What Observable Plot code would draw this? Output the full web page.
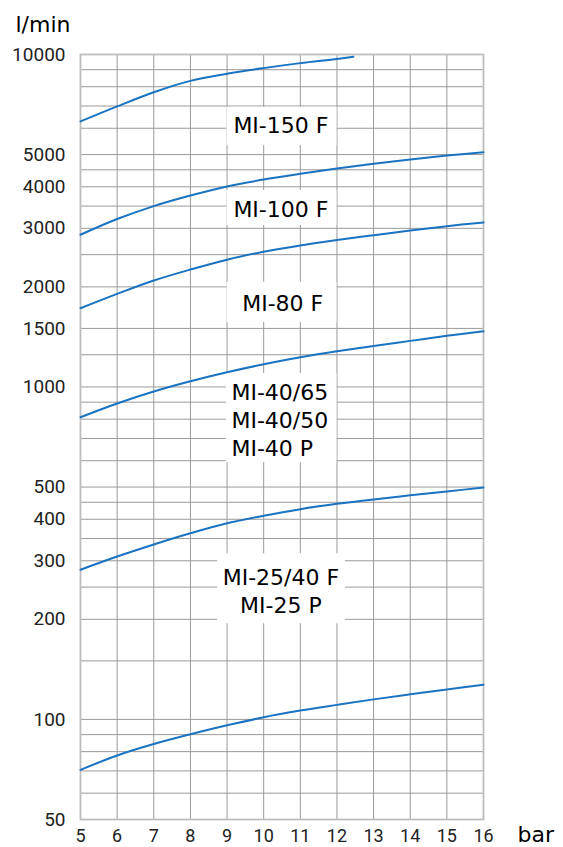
<!DOCTYPE html>
<html>
<head>
<meta charset="utf-8">
<script src="https://cdn.jsdelivr.net/npm/d3@7"></script>
<script src="https://cdn.jsdelivr.net/npm/@observablehq/plot@0.6"></script>
<style>
  html, body { margin: 0; padding: 0; background: #fff; }
</style>
</head>
<body>
<div id="chart"></div>
<script>
// Pressure (bar) sample points
const pressureBar = [5, 6, 7, 8, 9, 10, 11, 12, 13, 14, 15, 16];
const pressureBarShort = [5, 6, 7, 8, 9, 10, 11, 12, 12.45];

// Flow rates (l/min), top to bottom
const curveMI150F = [6290, 6980, 7700, 8330, 8750, 9100, 9420, 9700, 9850];
const curveMI100F = [2870, 3200, 3500, 3765, 4010, 4205, 4375, 4540, 4690, 4830, 4965, 5080];
const curveMI80F = [1725, 1905, 2090, 2255, 2415, 2550, 2665, 2765, 2860, 2955, 3045, 3125];
const curveMI40 = [811, 892, 969, 1040, 1107, 1170, 1228, 1280, 1329, 1376, 1425, 1470];
const curveMI25 = [282, 309, 336, 363, 389, 410, 429, 445, 459, 472, 485, 498];
const curveLowest = [70.5, 77.9, 84.3, 90.2, 96.0, 101.5, 106.3, 110.6, 114.9, 119, 123.1, 127.2];

// Axis ticks and grid values
const xTicks = [5, 6, 7, 8, 9, 10, 11, 12, 13, 14, 15, 16];
const yTickLabels = [50, 100, 200, 300, 400, 500, 1000, 1500, 2000, 3000, 4000, 5000, 10000];
const yGridValues = [50, 60, 70, 80, 90, 100, 150, 200, 250, 300, 350, 400, 450, 500, 600, 700, 800, 900,
  1000, 1250, 1500, 2000, 2500, 3000, 3500, 4000, 4500, 5000, 6000, 7000, 8000, 9000, 10000];

// Curve labels (anchored in data units: bar, l/min)
const labelText = ["MI-150 F", "MI-100 F", "MI-80 F", "MI-40/65\nMI-40/50\nMI-40 P", "MI-25/40 F\nMI-25 P"];
const labelBar = [10.47, 10.47, 10.52, 9.12, 10.47];
const labelFlow = [6157, 3441, 1795, 800, 244.5];
const boxBarFrom = [9.0, 9.0, 9.0, 8.98, 8.74];
const boxBarTo = [12.0, 12.0, 12.0, 12.0, 12.23];
const boxFlowLow = [5320, 3060, 1565, 592, 194];
const boxFlowHigh = [6940, 3900, 2065, 1097, 315];

// Build tidy table
const series = [
  ["MI-150 F", pressureBarShort, curveMI150F],
  ["MI-100 F", pressureBar, curveMI100F],
  ["MI-80 F", pressureBar, curveMI80F],
  ["MI-40", pressureBar, curveMI40],
  ["MI-25/40 F", pressureBar, curveMI25],
  ["lowest", pressureBar, curveLowest]
];
const rows = series.flatMap(([name, xs, ys]) => xs.map((x, i) => ({name, bar: x, flow: ys[i]})));

const labels = labelText.map((t, i) => ({
  text: t, bar: labelBar[i], flow: labelFlow[i],
  x1: boxBarFrom[i], x2: boxBarTo[i], y1: boxFlowLow[i], y2: boxFlowHigh[i],
  start: i === 3
}));

const blue = "#1a73c0";
const labelFont = "DejaVu Sans";

const chart = Plot.plot({
  width: 563,
  height: 847,
  marginLeft: 80,
  marginRight: 80,
  marginTop: 54,
  marginBottom: 28,
  style: {fontFamily: "Roboto", fontSize: "19px", color: "#222", background: "#fff"},
  x: {domain: [5, 16]},
  y: {type: "log", domain: [50, 10000]},
  marks: [
    Plot.gridX(xTicks, {stroke: "#9a9a9a", strokeOpacity: 1, strokeWidth: 1}),
    Plot.gridY(yGridValues, {stroke: "#9a9a9a", strokeOpacity: 1, strokeWidth: 1}),
    Plot.frame({stroke: "#bdbdbd", strokeWidth: 1.8}),
    Plot.rect(labels, {x1: "x1", x2: "x2", y1: "y1", y2: "y2", fill: "white"}),
    Plot.line(rows, {x: "bar", y: "flow", z: "name", stroke: blue, strokeWidth: 2, curve: "catmull-rom"}),
    Plot.text(labels.filter(d => !d.start), {x: "bar", y: "flow", text: "text", textAnchor: "middle",
      lineAnchor: "middle", lineHeight: 1.27, fontFamily: labelFont, fontSize: 22, fill: "#000"}),
    Plot.text(labels.filter(d => d.start), {x: "bar", y: "flow", text: "text", textAnchor: "start",
      lineAnchor: "middle", lineHeight: 1.27, fontFamily: labelFont, fontSize: 22, fill: "#000"}),
    Plot.axisX(xTicks, {tickSize: 0, tickPadding: 10, fontSize: 18, label: null, tickFormat: d => String(d)}),
    Plot.axisY(yTickLabels, {tickSize: 0, tickPadding: 15, label: null, tickFormat: d => String(d)}),
    Plot.text(["l/min"], {frameAnchor: "top-left", dx: -65, dy: -30, textAnchor: "start", lineAnchor: "middle",
      fontFamily: labelFont, fontSize: 22, fill: "#000"}),
    Plot.text(["bar"], {frameAnchor: "bottom-right", dx: 34, dy: 15, textAnchor: "start", lineAnchor: "middle",
      fontFamily: labelFont, fontSize: 22, fill: "#000"})
  ]
});
document.getElementById("chart").appendChild(chart);
</script>
</body>
</html>
